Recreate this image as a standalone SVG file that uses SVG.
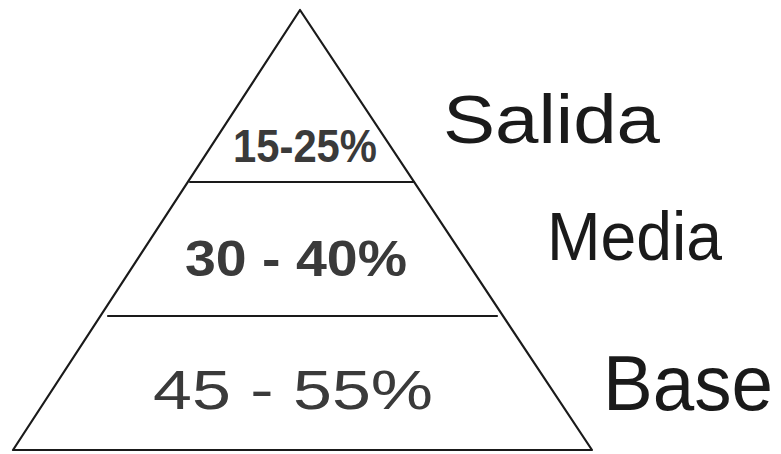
<svg xmlns="http://www.w3.org/2000/svg" width="781" height="454" viewBox="0 0 781 454">
<style>
.ln{stroke:#1a1a1a;stroke-width:2.2;fill:none;stroke-linecap:round;stroke-linejoin:round}
.num{font-family:"Liberation Sans",Arial,sans-serif;font-weight:bold;fill:#3a3a3a}
.thin{font-weight:normal}
.lab{font-family:"Liberation Sans",Arial,sans-serif;fill:#1a1a1a}
</style>
<rect width="781" height="454" fill="#ffffff"/>
<g id="connectors">
<path class="ln" d="M300,10 L13,450 L592,450 Z"/>
<line class="ln" x1="190" y1="182" x2="414" y2="182"/>
<line class="ln" x1="108" y1="316" x2="497" y2="316"/>
</g>
<g id="tier-top">
<text class="num" x="233" y="162" font-size="46" textLength="144" lengthAdjust="spacingAndGlyphs">15-25%</text>
</g>
<g id="tier-middle">
<text class="num" x="185" y="276" font-size="50" textLength="222" lengthAdjust="spacingAndGlyphs">30 - 40%</text>
</g>
<g id="tier-bottom">
<text class="num thin" x="153" y="409" font-size="56" textLength="280" lengthAdjust="spacingAndGlyphs">45 - 55%</text>
</g>
<g id="label-salida">
<text class="lab" x="443" y="143" font-size="68" textLength="217" lengthAdjust="spacingAndGlyphs">Salida</text>
</g>
<g id="label-media">
<text class="lab" x="547" y="260" font-size="68" textLength="175" lengthAdjust="spacingAndGlyphs">Media</text>
</g>
<g id="label-base">
<text class="lab" x="603" y="410" font-size="78" textLength="170" lengthAdjust="spacingAndGlyphs">Base</text>
</g>
</svg>
